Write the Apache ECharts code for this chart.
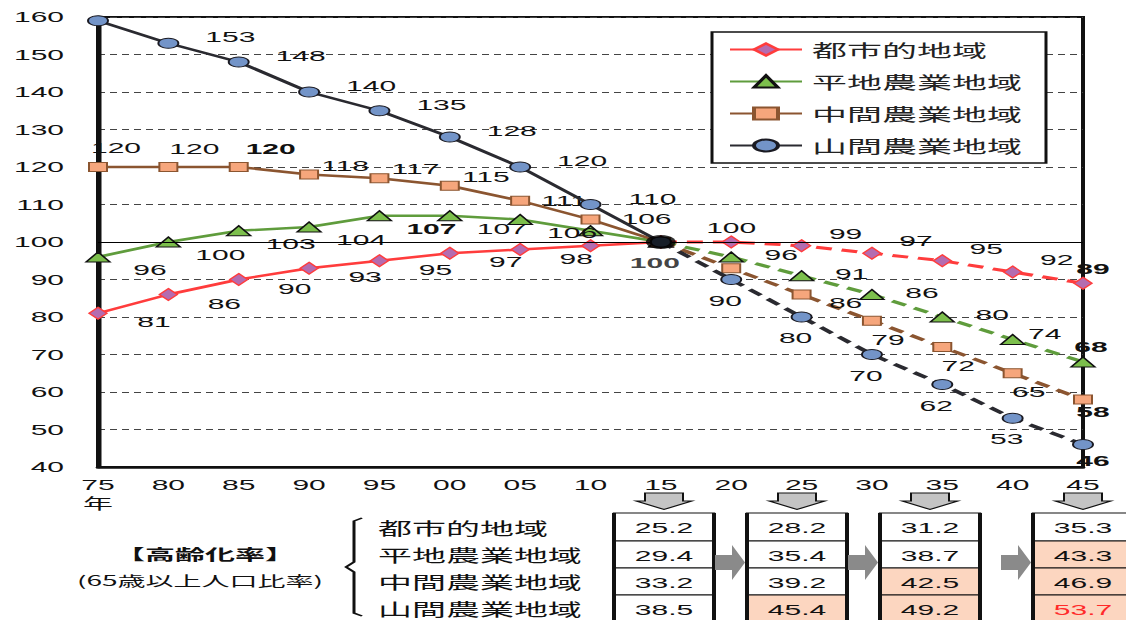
<!DOCTYPE html>
<html>
<head>
<meta charset="utf-8">
<script src="https://cdn.jsdelivr.net/npm/echarts@6/dist/echarts.min.js"></script>
<style>
html, body { margin: 0; padding: 0; background: #fff; overflow: hidden; }
/* the source picture is stretched 2x horizontally, so draw narrow and stretch */
#chart { width: 563px; height: 620px; transform: scaleX(2); transform-origin: 0 0; }
</style>
</head>
<body>
<div id="chart"></div>
<script>
// 指数（2015年=100）
const years = ['75', '80', '85', '90', '95', '00', '05', '10', '15', '20', '25', '30', '35', '40', '45'];
const regionNames = ['都市的地域', '平地農業地域', '中間農業地域', '山間農業地域'];
const urban = [81, 86, 90, 93, 95, 97, 98, 99, 100, 100, 99, 97, 95, 92, 89];
const flatFarm = [96, 100, 103, 104, 107, 107, 106, 103, 100, 96, 91, 86, 80, 74, 68];
const midFarm = [120, 120, 120, 118, 117, 115, 111, 106, 100, 93, 86, 79, 72, 65, 58];
const mountFarm = [159, 153, 148, 140, 135, 128, 120, 110, 100, 90, 80, 70, 62, 53, 46];
const baseIndex = 8; // 15年 = 100

// 高齢化率（65歳以上人口比率）
const ratioYears = ['15', '25', '35', '45'];
const ratioUrban = [25.2, 28.2, 31.2, 35.3];
const ratioFlat = [29.4, 35.4, 38.7, 43.3];
const ratioMid = [33.2, 39.2, 42.5, 46.9];
const ratioMount = [38.5, 45.4, 49.2, 53.7];

const numFont = '"Liberation Sans", "Noto Sans CJK JP", sans-serif';
const cjkFont = '"Noto Sans CJK JP", sans-serif';

// label placement for each region, solid part (75-15) and dashed part (15-45)
const regions = [
    {
        values: urban, color: '#ff3c3c', symbol: 'diamond', size: [9, 12], fill: '#b46cb0', border: '#ff3c3c',
        solid: { off: [28, 9], hide: [7] },
        dashed: { off: [22, -12], over: { 9: [0, -14], 14: [5, -14] }, bold: [14] }
    },
    {
        values: flatFarm, color: '#5f9c3c', symbol: 'triangle', size: [12, 10], fill: '#7cbf4c', border: '#111',
        solid: { off: [26, 13], hide: [7], bold: [4] },
        dashed: { off: [25, -2], over: { 13: [16, -6], 14: [4, -15] }, bold: [14] }
    },
    {
        values: midFarm, color: '#8b5530', symbol: 'rect', size: [9, 9], fill: '#f6a67c', border: '#8b5530',
        solid: { off: [18, -9], over: { 0: [9, -19], 1: [13, -18], 2: [16, -18], 6: [22, 0], 7: [28, -1] }, bold: [2] },
        dashed: { off: [8, 19], hide: [9], over: { 10: [22, 8], 14: [5, 12] }, bold: [14] }
    },
    {
        values: mountFarm, color: '#2a2a30', symbol: 'circle', size: [10, 10], fill: '#7394c8', border: '#1a1a22',
        solid: { off: [31, -6], hide: [0] },
        dashed: { off: [-3, 21], over: { 14: [5, 16] }, bold: [14] }
    }
];

function buildData(values, from, to, cfg) {
    return values.map(function (v, i) {
        if (i < from || i > to) return '-';
        const hide = (cfg.hide || []).indexOf(i) >= 0 || i === baseIndex;
        const label = { show: !hide, offset: (cfg.over && cfg.over[i]) || cfg.off };
        if ((cfg.bold || []).indexOf(i) >= 0) label.fontWeight = 'bold';
        return { value: v, label: label };
    });
}

let series = [];
regions.forEach(function (r, k) {
    ['solid', 'dashed'].forEach(function (part) {
        const solid = part === 'solid';
        const s = {
            name: regionNames[k],
            type: 'line',
            data: buildData(r.values, solid ? 0 : baseIndex, solid ? baseIndex : years.length - 1, r[part]),
            symbol: r.symbol,
            symbolSize: r.size,
            showAllSymbol: true,
            z: 3 + k,
            lineStyle: { color: r.color, width: solid ? 2.5 : 3, type: solid ? 'solid' : [8, 5] },
            itemStyle: { color: r.fill, borderColor: r.border, borderWidth: 1 },
            label: { show: true, position: 'inside', fontSize: 15, fontFamily: numFont, color: '#111' },
            animation: false
        };
        if (k === 0 && solid) {
            s.markLine = {
                silent: true, symbol: ['none', 'none'], label: { show: false },
                lineStyle: { color: '#000', width: 1, type: 'solid' },
                data: [{ yAxis: 100 }]
            };
        }
        series.push(s);
    });
});

// 基準年の黒丸
series.push({
    type: 'scatter',
    data: [[years[baseIndex], urban[baseIndex]]],
    symbol: 'circle',
    symbolSize: [15, 14],
    itemStyle: { color: '#000' },
    label: { show: true, position: 'inside', offset: [-3, 21], fontSize: 15, fontWeight: 'bold', fontFamily: numFont, color: '#111', formatter: '100' },
    z: 10,
    animation: false
});

// 高齢化率の表
const boxCenters = [332, 398.5, 465, 541.5];
const boxHalf = 25;
const rowTops = [513, 541, 568, 595, 622];
const ratioRows = [ratioUrban, ratioFlat, ratioMid, ratioMount];
let graphic = [];

graphic.push({ type: 'text', x: 102.5, y: 553, style: { text: '【高齢化率】', font: 'bold 15px ' + cjkFont, fill: '#111', align: 'center', verticalAlign: 'middle' } });
graphic.push({ type: 'text', x: 100, y: 580, style: { text: '(65歳以上人口比率)', font: '14px ' + cjkFont, fill: '#111', align: 'center', verticalAlign: 'middle' } });
graphic.push({ type: 'polyline', shape: { points: [[181, 518], [177, 521], [177, 562], [173, 567], [177, 572], [177, 613], [181, 616]] }, style: { stroke: '#111', lineWidth: 1.5, fill: null } });
regionNames.forEach(function (n, r) {
    graphic.push({ type: 'text', x: 189, y: (rowTops[r] + rowTops[r + 1]) / 2 + 0.5, style: { text: n, font: '17px ' + cjkFont, fill: '#111', align: 'left', verticalAlign: 'middle' } });
});

ratioYears.forEach(function (y, c) {
    const cx = boxCenters[c];
    const l = cx - boxHalf, rr = cx + boxHalf;
    // down arrow
    graphic.push({ type: 'polygon', shape: { points: [[cx - 9.5, 493], [cx + 9.5, 493], [cx + 9.5, 501], [cx + 14, 501], [cx, 509.5], [cx - 14, 501], [cx - 9.5, 501]] }, style: { fill: '#c4c4c4', stroke: '#111', lineWidth: 1 } });
    // right arrow
    if (c > 0) {
        const x0 = l - 16;
        graphic.push({ type: 'polygon', shape: { points: [[x0, 555], [x0 + 8.5, 555], [x0 + 8.5, 545], [l - 1, 562.5], [x0 + 8.5, 580], [x0 + 8.5, 570], [x0, 570]] }, style: { fill: '#8a8a8a' } });
    }
    ratioRows.forEach(function (vals, r) {
        const v = vals[c];
        const top = rowTops[r], bot = rowTops[r + 1];
        graphic.push({ type: 'rect', shape: { x: l, y: top, width: boxHalf * 2, height: bot - top }, style: { fill: v >= 40 ? '#fcd6c0' : '#fff', stroke: '#111', lineWidth: 1.2 } });
        graphic.push({ type: 'text', x: cx, y: (top + bot) / 2 + 1, style: { text: v.toFixed(1), font: '15px ' + numFont, fill: v >= 50 ? '#ff2a2a' : '#111', align: 'center', verticalAlign: 'middle' } });
    });
    graphic.push({ type: 'line', shape: { x1: l, y1: rowTops[0], x2: l, y2: 622 }, style: { stroke: '#111', lineWidth: 2 } });
    graphic.push({ type: 'line', shape: { x1: rr, y1: rowTops[0], x2: rr, y2: 622 }, style: { stroke: '#111', lineWidth: 2 } });
});

let option = {
    backgroundColor: '#fff',
    animation: false,
    grid: { left: 49, right: 21.5, top: 17, bottom: 153, show: true, borderColor: '#111', borderWidth: 2 },
    legend: {
        data: regionNames,
        orient: 'vertical',
        left: 356, top: 32,
        padding: [8, 12, 8, 8],
        itemGap: 13, itemWidth: 36, itemHeight: 15,
        backgroundColor: '#fff', borderColor: '#111', borderWidth: 1.5,
        textStyle: { fontSize: 17.5, fontFamily: cjkFont, color: '#222', lineHeight: 19 }
    },
    xAxis: {
        type: 'category',
        data: years,
        boundaryGap: false,
        axisLine: { lineStyle: { color: '#111', width: 2.5 } },
        axisTick: { show: false },
        axisLabel: {
            interval: 0, margin: 8.5, fontSize: 15, fontFamily: numFont, color: '#111', lineHeight: 19,
            formatter: function (v, i) { return i === 0 ? v + '\n年' : v; }
        },
        splitLine: { show: false }
    },
    yAxis: {
        type: 'value',
        min: 40, max: 160, interval: 10,
        axisLine: { show: true, lineStyle: { color: '#111', width: 2.5 } },
        axisTick: { show: false },
        axisLabel: { margin: 17, fontSize: 15, fontFamily: numFont, color: '#111' },
        splitLine: { lineStyle: { color: '#444', width: 1, type: [3.5, 2.5] } }
    },
    graphic: graphic,
    series: series
};

echarts.init(document.getElementById('chart'), null, { renderer: 'svg' }).setOption(option);
</script>
</body>
</html>
